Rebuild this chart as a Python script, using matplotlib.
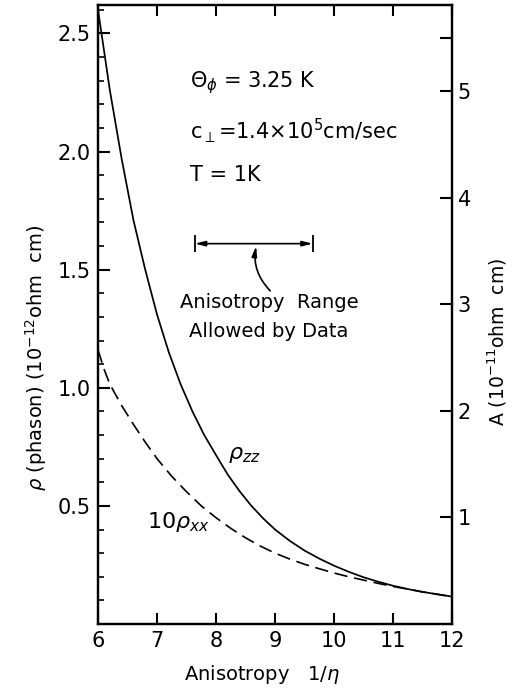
import numpy as np
import matplotlib
matplotlib.use('Agg')
import matplotlib.pyplot as plt
from matplotlib.ticker import MultipleLocator, FixedLocator

# values
x_zz = [6.0, 6.2, 6.4, 6.6, 6.8, 7.0, 7.2, 7.4, 7.6, 7.8, 8.0, 8.2, 8.4, 8.6, 8.8,
        9.0, 9.25, 9.5, 9.75, 10.0, 10.25, 10.5, 10.75, 11.0, 11.25, 11.5, 11.75, 12.0]
rho_zz = [2.60, 2.26, 1.97, 1.71, 1.50, 1.31, 1.15, 1.015, 0.90, 0.80, 0.715, 0.632,
          0.562, 0.50, 0.447, 0.40, 0.352, 0.311, 0.277, 0.247, 0.221, 0.198, 0.179,
          0.162, 0.148, 0.136, 0.126, 0.116]

x_xx = [6.0, 6.1, 6.2, 6.4, 6.6, 6.8, 7.0, 7.25, 7.5, 7.75, 8.0, 8.25, 8.5, 8.75, 9.0,
        9.25, 9.5, 9.75, 10.0, 10.25, 10.5, 10.75, 11.0, 11.25, 11.5, 11.75, 12.0]
rho_xx10 = [1.16, 1.08, 1.015, 0.925, 0.845, 0.77, 0.70, 0.625, 0.56, 0.50, 0.45, 0.405,
            0.365, 0.33, 0.30, 0.275, 0.253, 0.234, 0.216, 0.20, 0.186, 0.172, 0.159,
            0.148, 0.136, 0.126, 0.116]

range_lo, range_hi = 7.64, 9.64

plt.rcParams['font.family'] = 'DejaVu Sans'
plt.rcParams['mathtext.fontset'] = 'dejavusans'

fig = plt.figure(figsize=(5.14, 6.89), dpi=100)
ax = fig.add_axes([0.1907, 0.0943, 0.6887, 0.8984])

ax.plot(x_zz, rho_zz, color='black', lw=1.25)
ax.plot(x_xx, rho_xx10, color='black', lw=1.2, dashes=(8, 4))

ax.set_xlim(6, 12)
ax.set_ylim(0, 2.62)
ax.set_xticks([6, 7, 8, 9, 10, 11, 12])
ax.set_xticklabels(['6', '7', '8', '9', '10', '11', '12'])
ax.set_yticks([0.5, 1.0, 1.5, 2.0, 2.5])
ax.set_yticklabels(['0.5', '1.0', '1.5', '2.0', '2.5'])
ax.yaxis.set_minor_locator(MultipleLocator(0.1))
ax.tick_params(axis='x', which='major', direction='in', length=8, width=1.5,
               top=True, labelsize=15, pad=5)
ax.tick_params(axis='y', which='major', direction='in', length=8.5, width=1.5,
               right=False, labelsize=15, pad=5)
ax.tick_params(axis='y', which='minor', direction='in', length=4.5, width=1.2, right=False)
for s in ax.spines.values():
    s.set_linewidth(1.6)

ax2 = ax.twinx()
ax2.set_ylim(0, 5.81)
ax2.set_yticks([1, 2, 3, 4, 5])
ax2.set_yticklabels(['1', '2', '3', '4', '5'])
ax2.yaxis.set_minor_locator(FixedLocator([5.5]))
ax2.tick_params(axis='y', which='major', direction='in', length=8.5, width=1.5,
                labelsize=15, pad=4)
ax2.tick_params(axis='y', which='minor', direction='in', length=8.5, width=1.5)
for s in ax2.spines.values():
    s.set_linewidth(1.6)

fig.text(262 / 514, 1 - 674 / 689, r'Anisotropy   1/$\eta$', fontsize=14,
         ha='center', va='center')
fig.text(36 / 514, 1 - 358 / 689, r'$\rho$ (phason) (10$^{-12}$ohm  cm)', fontsize=14,
         rotation=90, ha='center', va='center')
fig.text(497 / 514, 1 - 342 / 689, r'A (10$^{-11}$ohm  cm)', fontsize=13.5,
         rotation=90, ha='center', va='center')

# annotations
ax.text(7.56, 2.29, r'$\Theta_\phi$ = 3.25 K', fontsize=15, va='center')
ax.text(7.56, 2.09, r'c$_\perp$=1.4$\times$10$^5$cm/sec', fontsize=15, va='center')
ax.text(7.56, 1.90, 'T = 1K', fontsize=15, va='center')

ax.annotate('', xy=(range_lo, 1.61), xytext=(range_hi, 1.61),
            arrowprops=dict(arrowstyle='<|-|>,head_length=0.6,head_width=0.15',
                            color='black', lw=1.2, shrinkA=0, shrinkB=0))
ax.vlines([range_lo, range_hi], 1.575, 1.645, color='black', lw=1.3)
ax.annotate('', xy=(8.68, 1.60), xytext=(8.92, 1.41),
            arrowprops=dict(arrowstyle='-|>,head_length=0.6,head_width=0.15',
                            color='black', lw=1.2, shrinkA=0, shrinkB=0,
                            connectionstyle='arc3,rad=-0.25'))
ax.text(8.9, 1.36, 'Anisotropy  Range', fontsize=14, ha='center', va='center')
ax.text(8.9, 1.24, 'Allowed by Data', fontsize=14, ha='center', va='center')

ax.text(8.2, 0.716, r'$\rho_{zz}$', fontsize=16, va='center')
ax.text(6.83, 0.43, r'10$\rho_{xx}$', fontsize=16, va='center')

fig.savefig('out.png', dpi=100)
